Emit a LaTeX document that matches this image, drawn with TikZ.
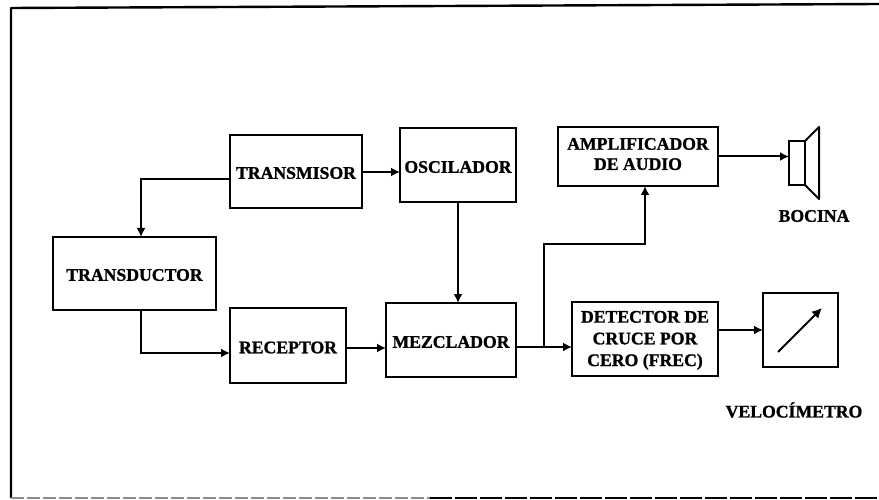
\documentclass[tikz,border=0pt]{standalone}
\usepackage{fontspec}
\setmainfont[BoldFeatures={FakeBold=1.2}]{Liberation Serif}
\usetikzlibrary{arrows.meta,calc}
\newcommand{\shft}[2]{\raisebox{#1}[\height][\depth]{#2}}
\tikzset{
  blk/.style={draw=black,line width=2.2pt,fill=white,inner sep=0pt,outer sep=0pt,align=center,
    font=\fontsize{17.7}{21.7}\selectfont\bfseries,line join=miter},
  lbl/.style={inner sep=0pt,outer sep=0pt,font=\fontsize{17.7}{21.7}\selectfont\bfseries},
  wire/.style={line width=2pt,line join=miter},
  arr/.style={wire,-{Latex[length=9pt,width=9pt]}},
  framel/.style={line width=2.4pt}
}
\begin{document}
\begin{tikzpicture}[x=1pt,y=-1pt]
\useasboundingbox (0,0) rectangle (879,500);
% frame
\coordinate (ftr) at (879,4);
\coordinate (ftl) at (11,8);
\coordinate (fbl) at (11,498);
\coordinate (fbm) at (430,498);
\coordinate (fbr) at (879,498);
\draw[framel,line join=round] (ftr) -- (ftl) -- (fbl);
\draw[framel,black!45,dash pattern=on 13pt off 3pt] (fbl) -- (fbm);
\draw[framel,dash pattern=on 22pt off 3pt] (fbm) -- (fbr);
% blocks
\node[blk,minimum width=132pt,minimum height=73pt] (tx) at (296,171.5) {\shft{-1.5pt}{TRANSMISOR}};
\node[blk,minimum width=163pt,minimum height=73pt] (td) at (134.5,273.5) {\shft{-1.5pt}{TRANSDUCTOR}};
\node[blk,minimum width=116pt,minimum height=75pt] (rx) at (288,345.5) {\shft{-2pt}{RECEPTOR}};
\node[blk,minimum width=116pt,minimum height=74pt] (os) at (458,165) {\shft{-2pt}{OSCILADOR}};
\node[blk,minimum width=130pt,minimum height=74pt] (mz) at (451,340) {\shft{-2pt}{MEZCLADOR}};
\node[blk,minimum width=160pt,minimum height=59pt] (am) at (638,156.5) {\shft{1pt}{\begin{tabular}{@{}c@{}}AMPLIFICADOR\\[-1.5pt]DE AUDIO\end{tabular}}};
\node[blk,minimum width=146pt,minimum height=74pt] (dt) at (645,339) {\shft{-1pt}{\begin{tabular}{@{}c@{}}DETECTOR DE\\CRUCE POR\\CERO (FREC)\end{tabular}}};
\node[blk,minimum width=75pt,minimum height=74pt] (vm) at (800.5,330) {};
\node[blk,minimum width=16pt,minimum height=44pt] (sp) at (797,163) {};
% speaker cone
\coordinate (c1) at (819,127);
\coordinate (c2) at (819,199);
\draw[wire,line join=round] (sp.north east) -- (c1) -- (c2) -- (sp.south east);
% meter needle
\coordinate (n1) at (778,352);
\coordinate (n2) at (822,308);
\draw[wire,-{Latex[length=10pt,width=10pt]}] (n1) -- (n2);
% labels
\node[lbl] (bo) at (814,216) {BOCINA};
\node[lbl] (ve) at (794,410) {VELOCÍMETRO};
% connectors
\coordinate (j1) at (141,179);
\draw[arr] ([yshift=-7.5pt]tx.west) -- (j1) -- (j1 |- td.north);
\coordinate (j2) at (141,353);
\draw[arr] (j2 |- td.south) -- (j2) -- ([yshift=-7.5pt]rx.west);
\draw[arr] ([yshift=-0.5pt]tx.east) -- ([yshift=-7pt]os.west);
\draw[arr] ([yshift=-2.5pt]rx.east) -- ([yshift=-8pt]mz.west);
\draw[arr] (os.south) -- (os.south |- mz.north);
\draw[arr] ([yshift=-7pt]mz.east) -- ([yshift=-8pt]dt.west);
\coordinate (b0) at (544,347);
\coordinate (b1) at (544,244);
\coordinate (b2) at (645,244);
\draw[arr] (b0) -- (b1) -- (b2) -- (b2 |- am.south);
\draw[arr] (am.east) -- (am.east -| sp.west);
\draw[arr] (dt.east |- vm.west) -- (vm.west);
\end{tikzpicture}
\end{document}
